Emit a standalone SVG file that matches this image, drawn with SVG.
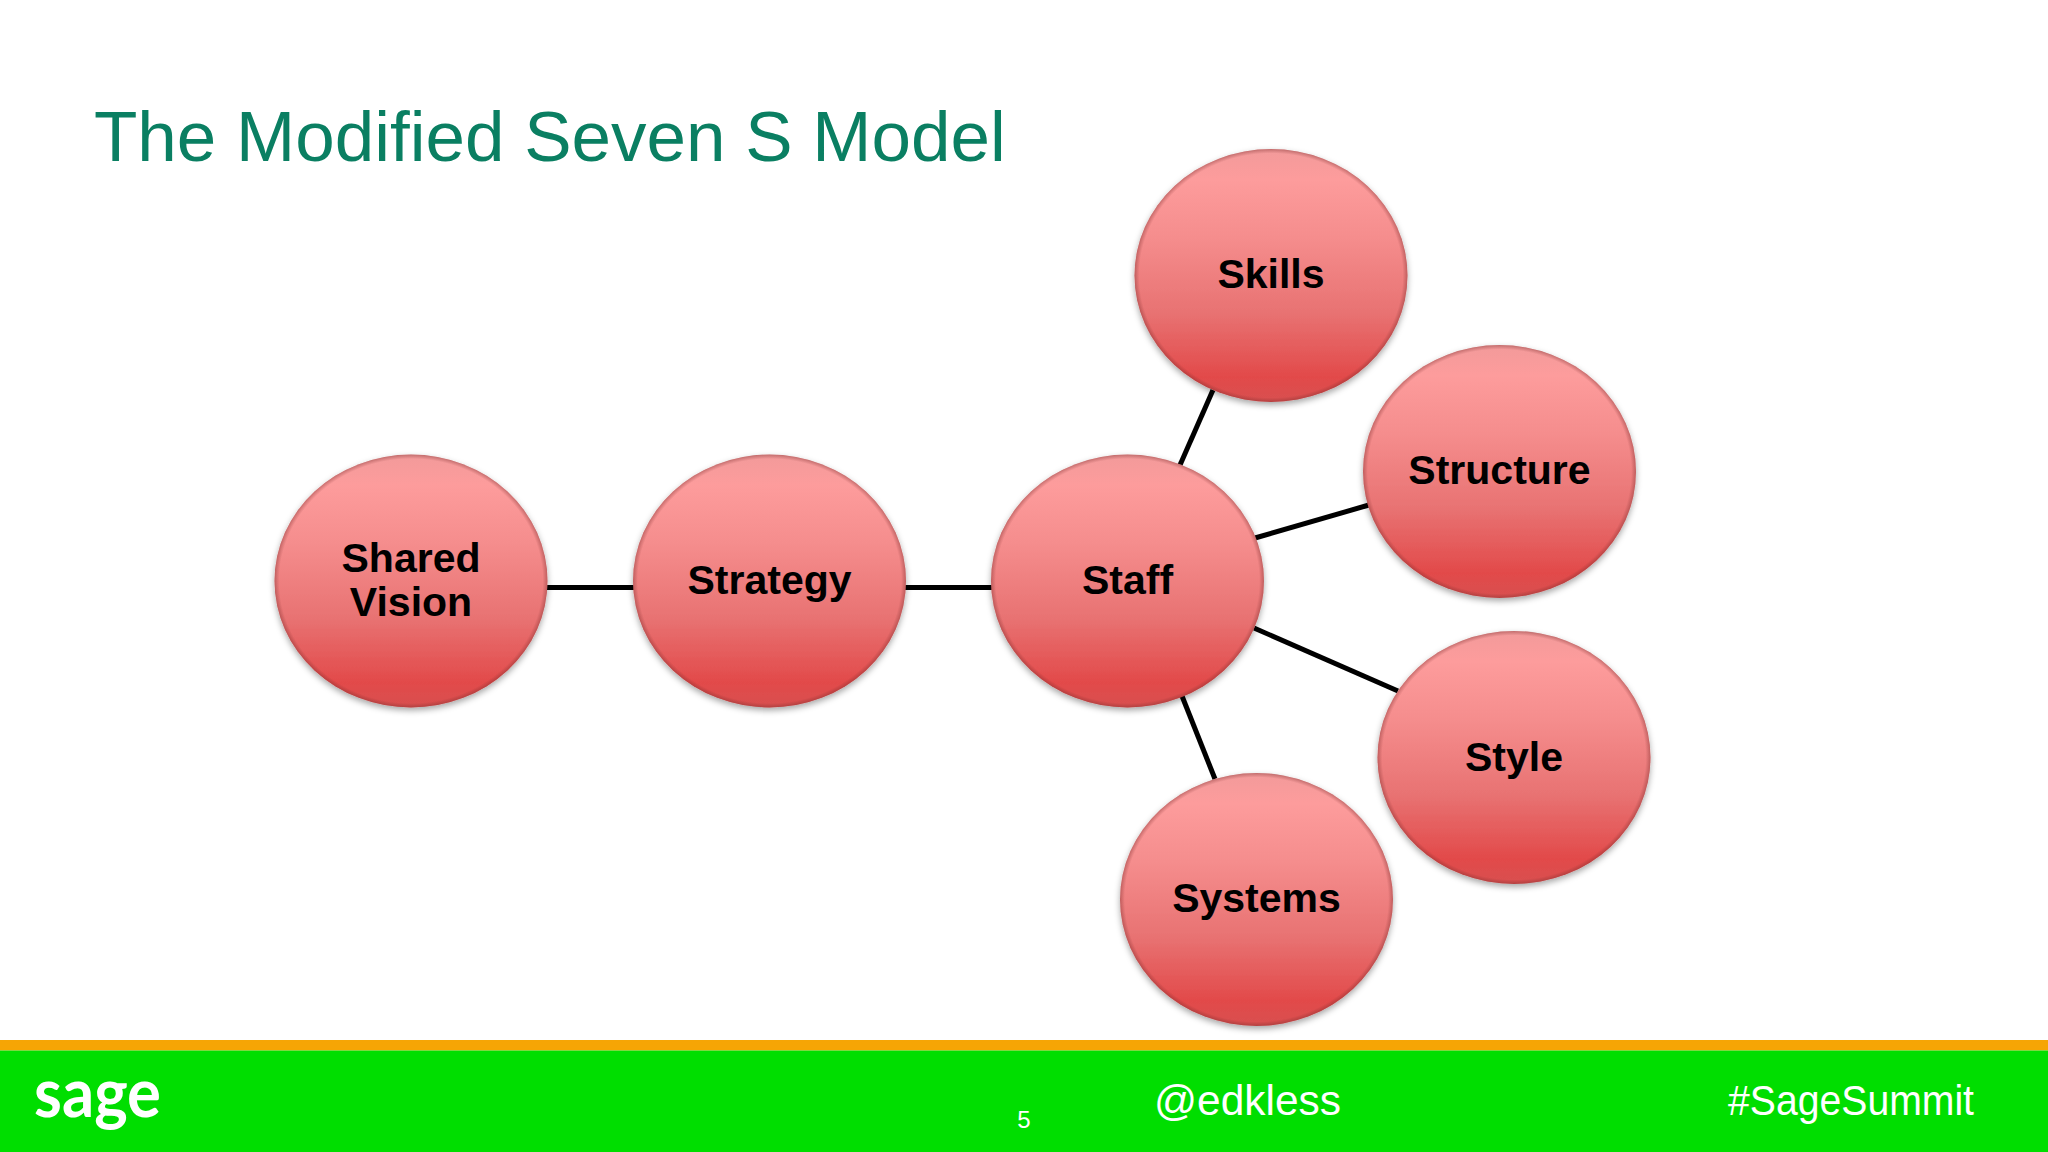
<svg xmlns="http://www.w3.org/2000/svg" width="2048" height="1152" viewBox="0 0 2048 1152">
<style>
.n{font:bold 41px "Liberation Sans",Arial,sans-serif;fill:#000;text-anchor:middle}
.f{font-family:"Liberation Sans",Arial,sans-serif;fill:#fff}
.c{stroke:#000;stroke-width:5;fill:none}
</style>
<defs>
<linearGradient id="g" x1="0" y1="0" x2="0" y2="1">
<stop offset="0" stop-color="#f29a9a"/><stop offset=".12" stop-color="#fd9c9c"/><stop offset=".35" stop-color="#f58d8d"/><stop offset=".65" stop-color="#e87272"/><stop offset=".9" stop-color="#e24a4a"/><stop offset="1" stop-color="#d85050"/>
</linearGradient>
<radialGradient id="r"><stop offset=".965" stop-color="#7a2a2a" stop-opacity="0"/><stop offset="1" stop-color="#7a2a2a" stop-opacity=".4"/></radialGradient>
<filter id="s" x="-10%" y="-10%" width="120%" height="120%"><feDropShadow dx="0" dy="3" stdDeviation="3" flood-color="#000" flood-opacity=".35"/></filter>
<g id="o"><ellipse rx="136.500" ry="126.500" fill="url(#g)" filter="url(#s)"/><ellipse rx="136.500" ry="126.500" fill="url(#r)"/></g>
</defs>
<rect width="2048" height="1152" fill="#fff"/>
<text id="title" x="94" y="161" font-family="Liberation Sans,Arial,sans-serif" font-size="71" fill="#0a7f62">The Modified Seven S Model</text>
<g id="connectors">
<line class="c" x1="547" y1="587.500" x2="634" y2="587.500"/>
<line class="c" x1="905" y1="587.500" x2="992" y2="587.500"/>
<line class="c" x1="1180" y1="465" x2="1213" y2="390"/>
<line class="c" x1="1255" y1="538" x2="1369" y2="505"/>
<line class="c" x1="1254" y1="628" x2="1398" y2="691"/>
<line class="c" x1="1182" y1="696" x2="1215" y2="779"/>
</g>
<g id="shared-vision"><use href="#o" x="411" y="581"/><text class="n" x="411" y="572">Shared</text><text class="n" x="411" y="616">Vision</text></g>
<g id="strategy"><use href="#o" x="769.500" y="581"/><text class="n" x="769.500" y="594">Strategy</text></g>
<g id="staff"><use href="#o" x="1127.500" y="581"/><text class="n" x="1127.500" y="594">Staff</text></g>
<g id="skills"><use href="#o" x="1271" y="275.500"/><text class="n" x="1271" y="288">Skills</text></g>
<g id="structure"><use href="#o" x="1499.500" y="471.500"/><text class="n" x="1499.500" y="484">Structure</text></g>
<g id="style"><use href="#o" x="1514" y="757.500"/><text class="n" x="1514" y="771">Style</text></g>
<g id="systems"><use href="#o" x="1256.500" y="899.500"/><text class="n" x="1256.500" y="912">Systems</text></g>
<g id="footer">
<rect y="1040" width="2048" height="10.500" fill="#f6a505"/>
<rect y="1050.500" width="2048" height="101.500" fill="#00de00"/>
<text x="34" y="1117" font-family="Lato,sans-serif" fill="#fff" font-size="68" font-weight="bold" textLength="127" lengthAdjust="spacingAndGlyphs">sage</text>
<text class="f" x="1024" y="1128" font-size="24" text-anchor="middle">5</text>
<text class="f" x="1154" y="1115" font-size="43" textLength="187" lengthAdjust="spacingAndGlyphs">@edkless</text>
<text class="f" x="1728" y="1115" font-size="43" textLength="246" lengthAdjust="spacingAndGlyphs">#SageSummit</text>
</g>
</svg>
